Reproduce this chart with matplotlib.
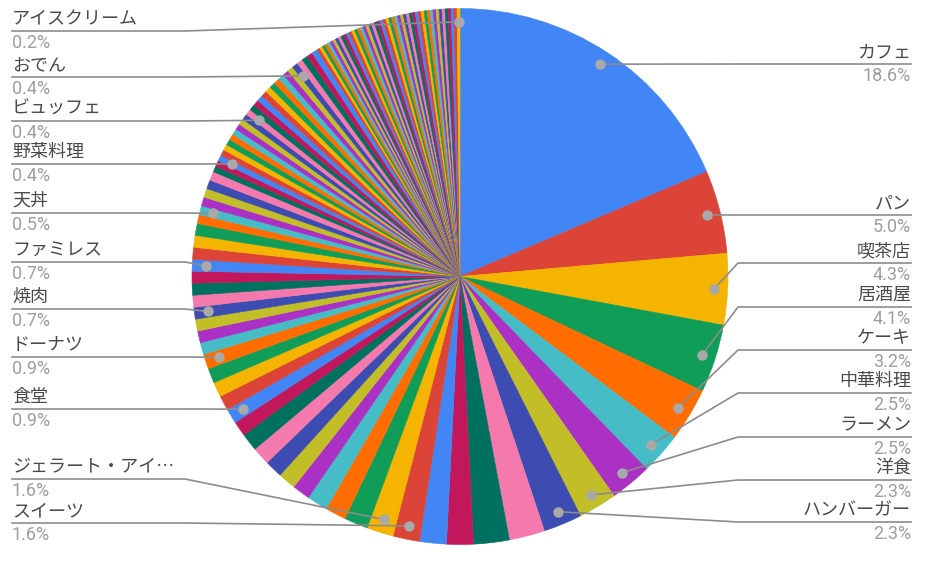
import numpy as np
import matplotlib.pyplot as plt

W, H = 928, 564

# counts per category, in chart order (clockwise from 12 o'clock)
counts = [104, 28, 24, 23, 18, 14, 14, 13, 13,
          12, 12, 9, 9, 9, 9,
          8, 7, 7, 6, 6, 6, 6, 6, 5,
          5, 5, 5, 5, 5,
          4, 4, 4, 4, 4, 4, 4, 4,
          4, 4, 4, 3, 3,
          3, 3, 3, 3, 2, 2, 2,
          2, 2, 2, 2, 2, 2, 2, 2, 2,
          2, 2, 2, 2, 2, 2, 2, 2, 2, 2, 2,
          2, 2, 2, 2,
          1, 1, 1, 1, 1, 1, 1, 1, 1, 1,
          1, 1, 1, 1, 1, 1, 1, 1, 1, 1,
          1, 1, 1, 1, 1, 1, 1, 1, 1, 1,
          1, 1, 1, 1, 1, 1, 1, 1, 1, 1,
          1, 1, 1, 1, 1, 1, 1, 1, 1, 1]

# slices that carry a label
right_names = ['カフェ', 'パン', '喫茶店', '居酒屋', 'ケーキ', '中華料理', 'ラーメン', '洋食', 'ハンバーガー']
right_idx = [0, 1, 2, 3, 4, 5, 6, 7, 8]
left_names = ['スイーツ', 'ジェラート・アイ…', '食堂', 'ドーナツ', '焼肉', 'ファミレス', '天丼',
              '野菜料理', 'ビュッフェ', 'おでん', 'アイスクリーム']
left_idx = [13, 14, 24, 28, 32, 36, 41, 48, 57, 68, 122]

# layout: y (pixels from top) of each label's underline
right_line_y = [64, 215, 263, 307, 350, 393, 437, 480, 522]
left_line_y = [523, 479, 409, 357, 309, 262, 213, 164, 121, 77, 31]

palette = ['#4285F4', '#DB4437', '#F4B400', '#0F9D58', '#FF6D00', '#46BDC6',
           '#AB30C4', '#C1BE27', '#3D4CB0', '#F47AAE', '#00705F', '#C2185B']

counts = np.array(counts)
total = counts.sum()
colors = [palette[i % len(palette)] for i in range(len(counts))]

fig = plt.figure(figsize=(W / 100, H / 100), dpi=100)
ax = fig.add_axes([0, 0, 1, 1])

cx, cy, R = 460, H - 276.5, 268
wedges, _ = ax.pie(counts, colors=colors, startangle=90, counterclock=False,
                   center=(cx, cy), radius=R, wedgeprops={'linewidth': 0.4})
for w in wedges:
    w.set_edgecolor(w.get_facecolor())
ax.set_xlim(0, W)
ax.set_ylim(0, H)
ax.set_aspect('equal')
ax.axis('off')

mid = (np.cumsum(counts) - counts / 2) / total * 2 * np.pi
dot_x = cx + 0.95 * R * np.sin(mid)
dot_y = cy + 0.95 * R * np.cos(mid)

line_c = '#8c8c8c'
dot_c = '#a9a9a9'
name_c = '#4a4a4a'
pct_c = '#9e9e9e'
cjk = ['Noto Sans CJK JP', 'DejaVu Sans']
fs = 13


def label(i, name, ly, side):
    y = H - ly
    if side == 'right':
        xe, xt, ha = 738, 911, 'right'
    else:
        xe, xt, ha = 185, 12, 'left'
    ax.plot([dot_x[i], xe, xt], [dot_y[i], y, y], color=line_c, lw=1.2, zorder=5)
    ax.plot(dot_x[i], dot_y[i], 'o', color=dot_c, ms=6.5, zorder=6)
    ax.text(xt, y + 7, name, ha=ha, va='baseline', fontsize=fs, color=name_c, family=cjk)
    ax.text(xt, y - 17, '{:.1f}%'.format(counts[i] / total * 100), ha=ha, va='baseline',
            fontsize=fs, color=pct_c, family='Roboto')


for i, n, ly in zip(right_idx, right_names, right_line_y):
    label(i, n, ly, 'right')
for i, n, ly in zip(left_idx, left_names, left_line_y):
    label(i, n, ly, 'left')

fig.savefig('out.png', dpi=100)
